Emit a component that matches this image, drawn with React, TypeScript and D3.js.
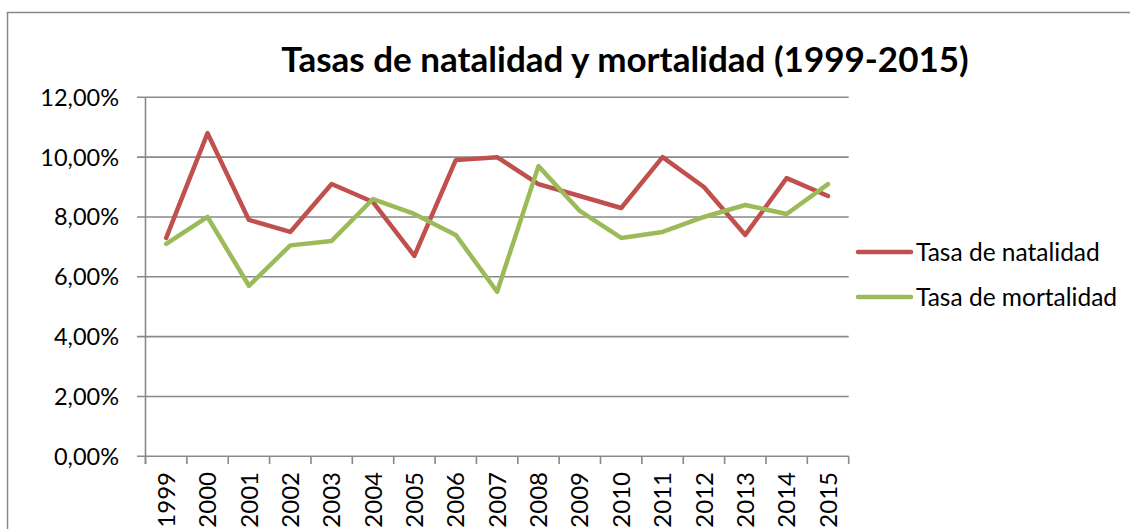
import React from "react";
import * as d3 from "d3";

const years = ["1999","2000","2001","2002","2003","2004","2005","2006","2007","2008","2009","2010","2011","2012","2013","2014","2015"];
const natalidad = [7.3,10.8,7.9,7.5,9.1,8.5,6.7,9.9,10.0,9.1,8.7,8.3,10.0,9.0,7.4,9.3,8.7];
const mortalidad = [7.1,8.0,5.7,7.05,7.2,8.6,8.1,7.4,5.5,9.7,8.2,7.3,7.5,8.0,8.4,8.1,9.1];
const yTicks = [0,2,4,6,8,10,12];
const seriesNames = ["Tasa de natalidad","Tasa de mortalidad"];
const colors = ["#C0504D","#9BBB59"];

export default function App() {
  const W = 1130, H = 529;
  const left = 145.5, right = 848.7, top = 97.3, bottom = 456.3;
  const x = d3.scaleBand().domain(years).range([left, right]);
  const y = d3.scaleLinear().domain([0, 12]).range([bottom, top]);
  const line = d3.line<number>().x((_, i) => (x(years[i]) as number) + x.bandwidth() / 2).y(d => y(d));
  const font = "Lato, Carlito, 'Noto Sans', sans-serif";
  const grid = "#898989";
  const fmt = (v: number) => v.toFixed(2).replace(".", ",") + "%";
  const bounds = years.map(yr => x(yr) as number).concat([right]);
  const series = [natalidad, mortalidad];
  return (
    <svg width={W} height={H} style={{ position: "absolute", left: 0, top: 0, background: "#fff" }} fontFamily={font}>
      <rect x={7.5} y={12.5} width={W + 10} height={H + 10} fill="#fff" stroke="#888" strokeWidth={1.5} />
      <text x={625} y={72} textAnchor="middle" fontSize={35} fontWeight="bold" fill="#000">Tasas de natalidad y mortalidad (1999-2015)</text>
      {yTicks.map(t => (
        <g key={t}>
          <line x1={137} x2={right} y1={y(t)} y2={y(t)} stroke={grid} strokeWidth={1.6} />
          <text x={119} y={y(t)} dy="0.36em" textAnchor="end" fontSize={23.5} fill="#000">{fmt(t)}</text>
        </g>
      ))}
      <line x1={left} x2={left} y1={top} y2={464} stroke={grid} strokeWidth={1.6} />
      {bounds.map((b, i) => (
        <line key={i} x1={b} x2={b} y1={bottom} y2={464} stroke={grid} strokeWidth={1.6} />
      ))}
      {years.map(yr => {
        const cx = (x(yr) as number) + x.bandwidth() / 2;
        return (
          <text key={yr} transform={`translate(${cx},472) rotate(-90)`} textAnchor="end" dy="0.36em" fontSize={24} fill="#000">{yr}</text>
        );
      })}
      {series.map((s, i) => (
        <path key={i} d={line(s) || ""} fill="none" stroke={colors[i]} strokeWidth={4.5} strokeLinejoin="round" strokeLinecap="round" />
      ))}
      {seriesNames.map((n, i) => (
        <g key={n}>
          <line x1={858} x2={911} y1={252 + i * 45} y2={252 + i * 45} stroke={colors[i]} strokeWidth={4.5} strokeLinecap="round" />
          <text x={916} y={252 + i * 45} dy="0.36em" fontSize={24.5} fill="#000">{n}</text>
        </g>
      ))}
    </svg>
  );
}
